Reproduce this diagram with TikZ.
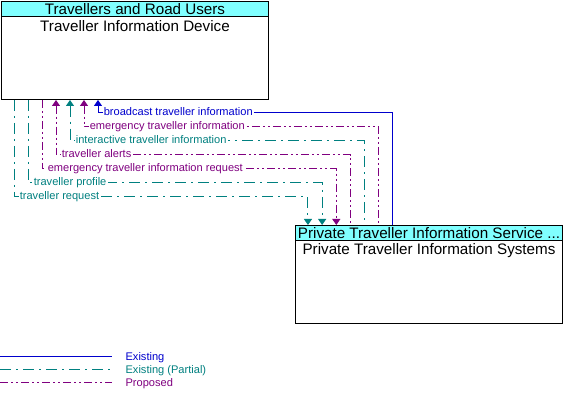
\documentclass[tikz,border=0pt]{standalone}
\usepackage{fontspec}
\setmainfont{Liberation Sans}
\usetikzlibrary{arrows.meta, positioning}
\definecolor{hdrcyan}{RGB}{128,255,255}
\definecolor{existblue}{RGB}{0,0,205}
\definecolor{partteal}{RGB}{0,128,128}
\definecolor{propviolet}{RGB}{128,0,128}

\begin{document}
\begin{tikzpicture}[x=0.75pt,y=-0.75pt,
	box/.style={draw, line width=0.75pt, minimum width=200.25pt, minimum height=73.5pt, inner sep=0pt},
	hdr/.style={draw, line width=0.75pt, fill=hdrcyan, minimum width=200.25pt, minimum height=11.25pt, inner sep=0pt, font=\fontsize{11.4}{12}\selectfont},
	title/.style={inner sep=0pt, minimum height=11.25pt, font=\fontsize{11.4}{12}\selectfont},
	existing/.style={existblue, line width=0.75pt},
	partial/.style={partteal, line width=0.75pt, dash pattern=on 8.25pt off 3.75pt on 1.5pt off 3.75pt},
	proposed/.style={propviolet, line width=0.75pt, dash pattern=on 6pt off 2.25pt on 1.5pt off 2.25pt on 1.5pt off 2.25pt},
	tiptop/.style={{Triangle[length=4.5pt,width=6pt]}-},
	tipbot/.style={-{Triangle[length=4.5pt,width=6pt]}},
	flowlabel/.style={font=\fontsize{8.3}{9}\selectfont, inner sep=1pt, text height=5.6pt, text depth=1.4pt, fill=white, anchor=west}
]
	\useasboundingbox (0,0) rectangle (572,402);
	% Boxes
	\node[box, anchor=north west] (tid) at (1,1) {};
	\node[hdr, anchor=north west] (tidhdr) at (tid.north west) {Travellers and Road Users};
	\node[title, below=1pt of tidhdr] (tidname) {Traveller Information Device};
	\node[box, anchor=north west] (pts) at (295,225) {};
	\node[hdr, anchor=north west] (ptshdr) at (pts.north west) {Private Traveller Information Service ...};
	\node[title, below=1pt of ptshdr] (ptsname) {Private Traveller Information Systems};
	% Flows: index / line style / arrow end / label
	\foreach \i/\ln/\tip/\lbl in {
		1/partial/tipbot/traveller request,
		2/partial/tipbot/traveller profile,
		3/proposed/tipbot/emergency traveller information request,
		4/proposed/tiptop/traveller alerts,
		5/partial/tiptop/interactive traveller information,
		6/proposed/tiptop/emergency traveller information,
		7/existing/tiptop/broadcast traveller information}{
		\coordinate (up\i) at ({14*\i},0);
		\coordinate (dn\i) at ({293.8+14.17*\i},0);
		\coordinate (lv\i) at (0,{211-14*\i});
		\draw[\ln, \tip] (tid.south -| up\i) -- (up\i |- lv\i)
			node[flowlabel, xshift=3pt] (lb\i) {\lbl}
			-- (dn\i |- lv\i) -- (pts.north -| dn\i);
	}
	% Legend
	\coordinate (lga) at (0,357);
	\coordinate (lgb) at (0,370);
	\coordinate (lgc) at (0,383);
	\draw[existing] (lga) -- ++(112,0);
	\draw[partial] (lgb) -- ++(112,0);
	\draw[proposed] (lgc) -- ++(112,0);
	\node[flowlabel, text=existblue] (lgexist) at (124,358) {Existing};
	\node[flowlabel, text=partteal] (lgpart) at (124,371) {Existing (Partial)};
	\node[flowlabel, text=propviolet] (lgprop) at (124,384) {Proposed};
\end{tikzpicture}
\end{document}
